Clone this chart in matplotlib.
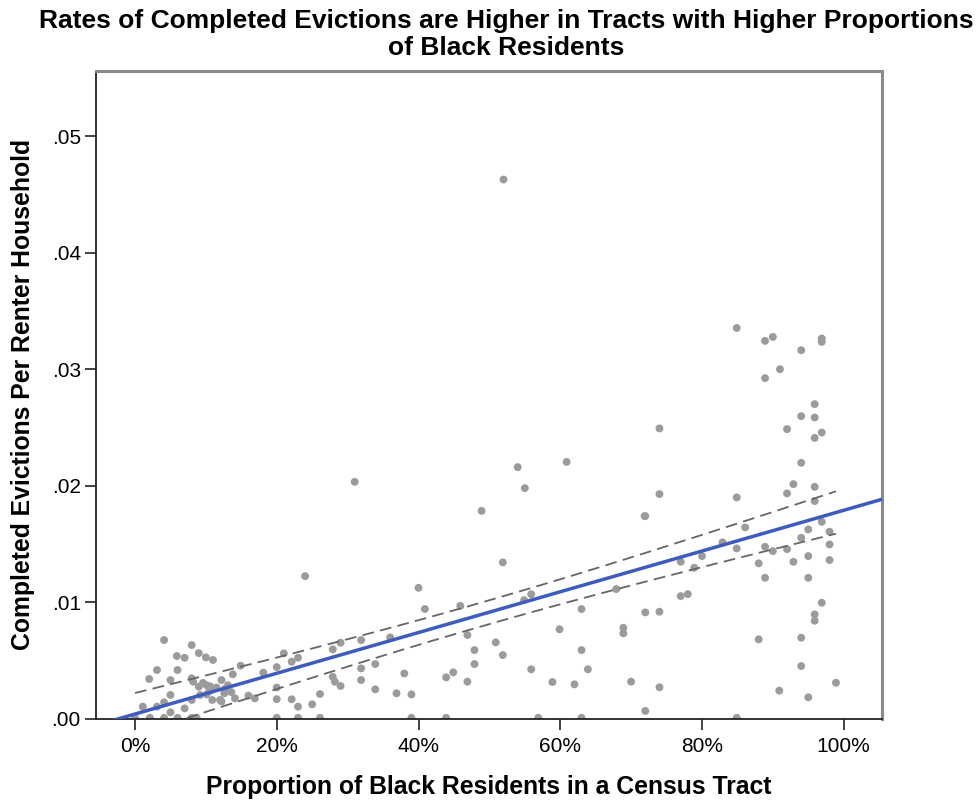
import numpy as np
import matplotlib
matplotlib.use("Agg")
import matplotlib.pyplot as plt
from matplotlib.ticker import FixedLocator, FuncFormatter

plt.rcParams['font.family'] = ['Liberation Sans', 'DejaVu Sans']

# share of Black residents per tract (percent)
pct_black = [
    4.1, 8.0, 9.0, 5.9, 7.0, 10.0, 11.0, 3.1, 6.0, 14.9,
    2.0, 5.0, 8.0, 9.0, 10.1, 12.2, 13.1, 13.8, 18.1, 5.0,
    4.1, 1.1, 3.1, 5.0, 7.0, 8.0, 9.2, 10.9, 12.0, 14.1,
    16.0, 16.9, 10.5, 11.5, 12.6, 9.6, 0.0, 2.1, 4.1, 6.0,
    8.0, 8.7, 8.2, 10.6, 12.7, 13.6, 12.2, 10.1,
    20.0, 20.0, 20.0, 20.0,
    24.0, 40.0, 40.9, 45.9, 21.0, 22.1, 23.0, 27.9, 29.0, 31.9,
    36.0, 31.9, 33.9, 27.9, 28.2, 29.0, 38.0, 22.1, 23.0, 25.0,
    26.1, 31.9, 33.9, 36.9, 39.0, 43.9, 44.9, 46.9, 23.0, 26.1,
    39.0, 43.9, 31.0, 52.0,
    54.0, 60.9, 55.0, 48.9, 71.9, 51.9, 54.9, 55.9, 67.9, 63.0,
    59.9, 68.9, 68.9, 46.9, 50.9, 47.9, 51.9, 47.9, 63.0, 55.9,
    63.9, 58.9, 62.0, 70.0, 56.9, 63.0,
    84.9, 88.9, 90.0, 96.9, 96.9, 94.0, 91.0, 88.9, 95.9, 94.0,
    95.9, 74.0, 92.0, 96.9, 95.9, 94.0, 92.9, 95.9, 92.0, 74.0,
    84.9, 95.9, 72.0, 96.9, 95.0, 98.0, 86.1, 94.0, 98.0, 82.9,
    88.9, 90.0, 92.0, 84.9, 80.0, 77.0, 78.9, 88.0, 92.9, 95.0,
    98.0, 88.9, 95.0, 77.0, 78.0, 96.9, 72.0, 74.0, 95.9, 95.9,
    88.0, 94.0, 94.0, 74.0, 90.9, 95.0, 98.9, 72.0, 84.9,
]

# completed evictions per renter household
evict_rate = [
    .00677, .00634, .00565, .0054, .00525, .00528, .00506, .0042, .0042, .00457,
    .00343, .00334, .00349, .00277, .0029, .00334, .0029, .00383, .00397, .00206,
    .00143, .00106, .00106, .00057, .00091, .00163, .00206, .00163, .00163, .00177,
    .0020, .00177, .0024, .0027, .0022, .0031, .0001, .0001, .0001, .0001,
    .0001, .0001, .0032, .0028, .0026, .0023, .0015, .0021,
    .00445, .0027, .0017, .0001,
    .01225, .01125, .00943, .0097, .00563, .00491, .00525, .00597, .00654, .00677,
    .0070, .00434, .00471, .00362, .0032, .00283, .0039, .00169, .00106, .00126,
    .00214, .00334, .00254, .0022, .00211, .00357, .0040, .0032, .0001, .0001,
    .0001, .0001, .02034, .04627,
    .0216, .02205, .0198, .01785, .0174, .01343, .0102, .0107, .01114, .00943,
    .00769, .00782, .00734, .0072, .00657, .00591, .00548, .00471, .00591, .00426,
    .00426, .00317, .00297, .0032, .0001, .0001,
    .03354, .03243, .03277, .03263, .03234, .03163, .0300, .02923, .0270, .02597,
    .02586, .02492, .02486, .02457, .02411, .02197, .02014, .01991, .01935, .01929,
    .0190, .01869, .0174, .01691, .01626, .01606, .01643, .01554, .01497, .01515,
    .01477, .0144, .01457, .01463, .01397, .01348, .01297, .01335, .01348, .01397,
    .01363, .01211, .01211, .01054, .01071, .00997, .00914, .0092, .00897, .00843,
    .00683, .00697, .00454, .00272, .00243, .00186, .00311, .00069, .0001,
]

x = np.array(pct_black) / 100.0
y = np.array(evict_rate)

# linear fit with 95% confidence band for the mean
n = len(x)
slope, intercept = np.polyfit(x, y, 1)
resid = y - (intercept + slope * x)
s = np.sqrt(np.sum(resid ** 2) / (n - 2))
xbar = x.mean()
sxx = np.sum((x - xbar) ** 2)
t_crit = 1.97

x_line = np.linspace(-0.06, 1.06, 200)
x_band = np.linspace(x.min(), x.max(), 200)
hw = t_crit * s * np.sqrt(1.0 / n + (x_band - xbar) ** 2 / sxx)
fit_band = intercept + slope * x_band

fig = plt.figure(figsize=(9.8, 8.01), dpi=100)
ax = fig.add_axes([0.098, 0.1024, 0.802, 0.8093])

ax.scatter(x, y, s=32, color='#9b9b9b', edgecolors='none', zorder=2)
ax.plot(x_line, intercept + slope * x_line, color='#3d5cbf', lw=2.5, zorder=4)
ax.plot(x_band, fit_band + hw, color='#666666', lw=1.3, ls=(0, (6.5, 3.5)), zorder=3)
ax.plot(x_band, fit_band - hw, color='#666666', lw=1.3, ls=(0, (6.5, 3.5)), zorder=3)

ax.set_xlim(-0.055, 1.054)
ax.set_ylim(0, 0.0556)

ax.xaxis.set_major_locator(FixedLocator([0, 0.2, 0.4, 0.6, 0.8, 1.0]))
ax.xaxis.set_major_formatter(FuncFormatter(lambda v, p: f"{v * 100:.0f}%"))
ax.yaxis.set_major_locator(FixedLocator([0, 0.01, 0.02, 0.03, 0.04, 0.05]))
ax.yaxis.set_major_formatter(FuncFormatter(lambda v, p: f"{v:.2f}".lstrip('0')))
ax.tick_params(axis='both', direction='out', length=8, width=1.2, labelsize=15, color='#222222')
ax.tick_params(axis='x', pad=5)
ax.tick_params(axis='y', pad=3)

for side in ['left', 'bottom']:
    ax.spines[side].set_color('#222222')
    ax.spines[side].set_linewidth(1.3)
for side in ['top', 'right']:
    ax.spines[side].set_color('#8a8a8a')
    ax.spines[side].set_linewidth(2.2)

fig.text(0.517, 0.989, "Rates of Completed Evictions are Higher in Tracts with Higher Proportions\nof Black Residents",
         ha='center', va='top', fontsize=19, fontweight='bold', linespacing=1.15)
ax.set_xlabel("Proportion of Black Residents in a Census Tract", fontsize=17.8, fontweight='bold', labelpad=14)
ax.set_ylabel("Completed Evictions Per Renter Household", fontsize=17.8, fontweight='bold', labelpad=12)

fig.savefig("out.png", dpi=100)
